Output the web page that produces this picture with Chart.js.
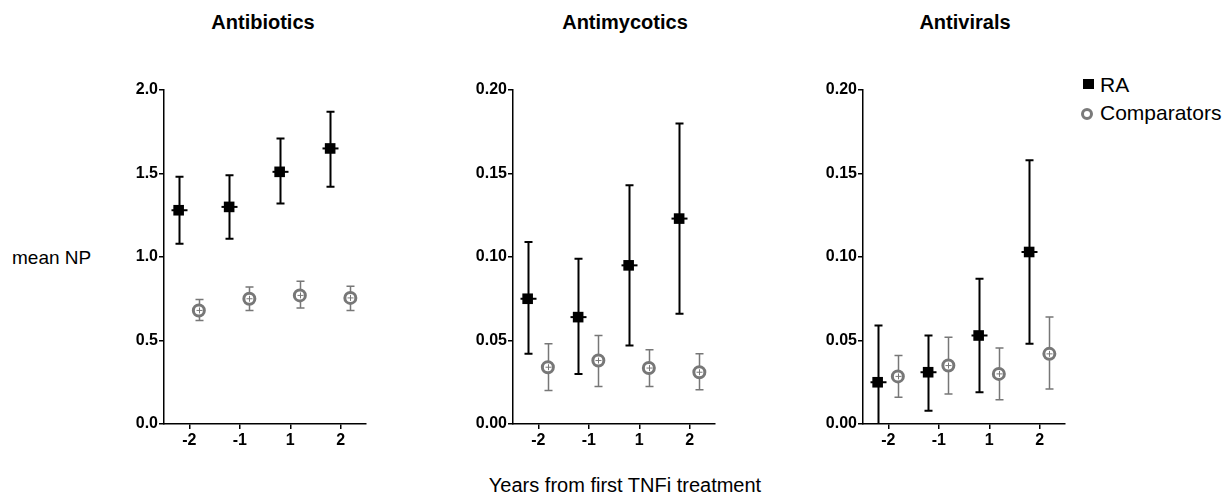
<!DOCTYPE html>
<html>
<head>
<meta charset="utf-8">
<script src="https://cdn.jsdelivr.net/npm/chart.js@4.4.1/dist/chart.umd.min.js"></script>
<style>
  body { margin: 0; background: #fff; font-family: "Liberation Sans", Arial, sans-serif; }
  #fig { position: relative; width: 1232px; height: 497px; overflow: hidden; }
  #fig canvas { position: absolute; }
  .title { position: absolute; top: 11px; font-weight: bold; font-size: 20px; line-height: 23px; transform: translateX(-50%); white-space: nowrap; }
  .ytitle { position: absolute; left: 12px; top: 247px; font-size: 19px; line-height: 22px; }
  .xtitle { position: absolute; left: 625px; top: 474px; font-size: 20px; line-height: 23px; transform: translateX(-50%); white-space: nowrap; }
  .lg { position: absolute; left: 1100px; font-size: 21px; line-height: 24px; white-space: nowrap; }
  .sq { position: absolute; left: 1083px; top: 79px; width: 11px; height: 10px; background: #000; }
  .ring { position: absolute; left: 1081px; top: 108px; width: 6px; height: 6px; border: 3px solid #7a7a7a; border-radius: 50%; }
</style>
</head>
<body>
<div id="fig">
  <canvas id="c0"></canvas>
  <canvas id="c1"></canvas>
  <canvas id="c2"></canvas>
  <div class="title" style="left:263px">Antibiotics</div>
  <div class="title" style="left:625px">Antimycotics</div>
  <div class="title" style="left:965px">Antivirals</div>
  <div class="ytitle">mean NP</div>
  <div class="xtitle">Years from first TNFi treatment</div>
  <span class="sq"></span><div class="lg" style="top:73px">RA</div>
  <span class="ring"></span><div class="lg" style="top:101px">Comparators</div>
</div>
<script>
// categories
const years = ['-2', '-1', '1', '2'];

// Antibiotics
const antibioticsRA = [1.28, 1.30, 1.51, 1.65];
const antibioticsRALow = [1.08, 1.11, 1.32, 1.42];
const antibioticsRAHigh = [1.48, 1.49, 1.71, 1.87];
const antibioticsComp = [0.68, 0.75, 0.77, 0.755];
const antibioticsCompLow = [0.62, 0.68, 0.695, 0.68];
const antibioticsCompHigh = [0.745, 0.82, 0.855, 0.825];

// Antimycotics
const antimycoticsRA = [0.075, 0.064, 0.095, 0.123];
const antimycoticsRALow = [0.042, 0.030, 0.047, 0.066];
const antimycoticsRAHigh = [0.109, 0.099, 0.143, 0.180];
const antimycoticsComp = [0.034, 0.038, 0.0335, 0.031];
const antimycoticsCompLow = [0.020, 0.0225, 0.0225, 0.0205];
const antimycoticsCompHigh = [0.048, 0.053, 0.0445, 0.042];

// Antivirals
const antiviralsRA = [0.025, 0.031, 0.053, 0.103];
const antiviralsRALow = [-0.01, 0.008, 0.019, 0.048];
const antiviralsRAHigh = [0.059, 0.053, 0.087, 0.158];
const antiviralsComp = [0.0285, 0.035, 0.030, 0.042];
const antiviralsCompLow = [0.016, 0.018, 0.0145, 0.021];
const antiviralsCompHigh = [0.041, 0.052, 0.0455, 0.064];

const yMax = [2.0, 0.20, 0.20];
const yStep = [0.5, 0.05, 0.05];
const yDigits = [1, 2, 2];

const raColor = '#000000';
const compColor = '#777777';

// where each panel's canvas starts
const canvasLeft = [100, 449, 799];

function points(mean, low, high, shift) {
  return mean.map((m, i) => ({ x: i + shift, y: m, lo: low[i], hi: high[i] }));
}

const errorBars = {
  id: 'errorBars',
  beforeDatasetsDraw(chart) {
    const { ctx, chartArea } = chart;
    const x = chart.scales.x, y = chart.scales.y;
    ctx.save();
    ctx.beginPath();
    ctx.rect(chartArea.left, chartArea.top - 20, chartArea.width, chartArea.height + 20);
    ctx.clip();
    chart.data.datasets.forEach(ds => {
      ctx.strokeStyle = ds.borderColor;
      ctx.lineWidth = ds.barWidth;
      ds.data.forEach(p => {
        const px = Math.round(x.getPixelForValue(p.x)) + 0.5;
        const top = y.getPixelForValue(p.hi);
        const bot = y.getPixelForValue(p.lo);
        ctx.beginPath();
        ctx.moveTo(px, top);
        ctx.lineTo(px, bot);
        ctx.moveTo(px - 4, top);
        ctx.lineTo(px + 4, top);
        if (p.lo > 0) {
          ctx.moveTo(px - 4, bot);
          ctx.lineTo(px + 4, bot);
        }
        ctx.stroke();
      });
    });
    ctx.restore();
  },
  afterDatasetsDraw(chart) {
    const { ctx } = chart;
    const x = chart.scales.x, y = chart.scales.y;
    ctx.save();
    chart.data.datasets.forEach((ds, k) => {
      ds.data.forEach(p => {
        const px = Math.round(x.getPixelForValue(p.x)) + 0.5;
        const py = y.getPixelForValue(p.y);
        ctx.beginPath();
        if (k === 0) {
          ctx.strokeStyle = raColor;
          ctx.lineWidth = 2;
          ctx.moveTo(px - 8, py);
          ctx.lineTo(px + 8, py);
        } else {
          ctx.strokeStyle = compColor;
          ctx.lineWidth = 1;
          ctx.moveTo(px - 3, py);
          ctx.lineTo(px + 3, py);
          ctx.moveTo(px, py - 3);
          ctx.lineTo(px, py + 3);
        }
        ctx.stroke();
      });
    });
    ctx.restore();
  }
};

const series = [
  [antibioticsRA, antibioticsRALow, antibioticsRAHigh, antibioticsComp, antibioticsCompLow, antibioticsCompHigh],
  [antimycoticsRA, antimycoticsRALow, antimycoticsRAHigh, antimycoticsComp, antimycoticsCompLow, antimycoticsCompHigh],
  [antiviralsRA, antiviralsRALow, antiviralsRAHigh, antiviralsComp, antiviralsCompLow, antiviralsCompHigh]
];

const tickFont = { family: '"Liberation Sans", Arial, sans-serif', size: 16, weight: 'bold' };

series.forEach((s, n) => {
  const canvas = document.getElementById('c' + n);
  canvas.style.left = canvasLeft[n] + 'px';
  canvas.style.top = '70px';
  canvas.style.width = '281px';
  canvas.style.height = '390px';

  new Chart(canvas, {
    type: 'scatter',
    data: {
      datasets: [
        {
          label: 'RA',
          data: points(s[0], s[1], s[2], -0.21),
          pointStyle: 'rect',
          pointRadius: 7.5,
          backgroundColor: raColor,
          borderColor: raColor,
          borderWidth: 0,
          barWidth: 2
        },
        {
          label: 'Comparators',
          data: points(s[3], s[4], s[5], 0.19),
          pointStyle: 'circle',
          pointRadius: 5.5,
          backgroundColor: '#ffffff',
          borderColor: compColor,
          borderWidth: 3,
          barWidth: 1.5
        }
      ]
    },
    options: {
      responsive: false,
      animation: false,
      layout: { padding: { top: 20, right: 15, left: 0, bottom: 0 } },
      plugins: { legend: { display: false }, tooltip: { enabled: false } },
      scales: {
        x: {
          type: 'linear',
          min: -0.5,
          max: 3.5,
          afterBuildTicks: axis => { axis.ticks = years.map((c, i) => ({ value: i })); },
          afterFit: axis => { axis.height = 36; },
          ticks: {
            callback: (v, i) => years[i],
            color: '#000',
            font: tickFont,
            padding: 2,
            maxRotation: 0,
            autoSkip: false
          },
          grid: { drawOnChartArea: false, drawTicks: true, tickLength: 5, color: '#000', lineWidth: 1.5 },
          border: { color: '#000', width: 1.5 }
        },
        y: {
          min: 0,
          max: yMax[n],
          afterFit: axis => { axis.width = 64; },
          ticks: {
            stepSize: yStep[n],
            callback: v => v.toFixed(yDigits[n]),
            color: '#000',
            font: tickFont,
            padding: 1
          },
          grid: { drawOnChartArea: false, drawTicks: true, tickLength: 5, color: '#000', lineWidth: 1.5 },
          border: { color: '#000', width: 1.5 }
        }
      }
    },
    plugins: [errorBars]
  });
});
</script>
</body>
</html>
